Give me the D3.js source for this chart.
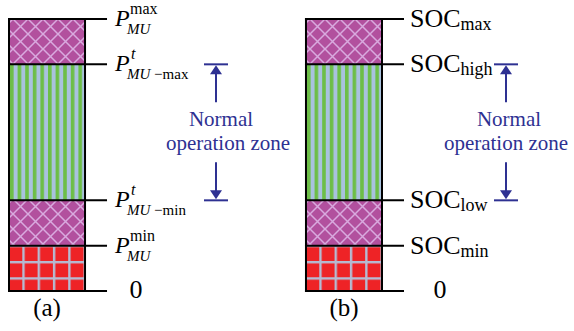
<!DOCTYPE html>
<html>
<head>
<meta charset="utf-8">
<script src="https://cdn.jsdelivr.net/npm/d3@7"></script>
<style>
  body { margin: 0; }
  #chart text, #chart tspan { font-family: Tinos, "Liberation Serif", Times, serif; }
</style>
</head>
<body>
<svg id="chart" width="574" height="331" style="display:block"></svg>
<script>
// ---- data ----
const panels = ["(a)", "(b)"];
const levelValues = [0, 1, 2, 5, 6];
const segStart = [0, 1, 2, 5];
const segEnd = [1, 2, 5, 6];
const segFill = ["grid", "hatch", "stripe", "hatch"];
const labelsA = [
  { base: "0" },
  { base: "P", sup: "min", sub: "MU" },
  { base: "P", sup: "t", sub: "MU", subRest: " \u2212min" },
  { base: "P", sup: "t", sub: "MU", subRest: " \u2212max" },
  { base: "P", sup: "max", sub: "MU" }
];
const labelsB = [
  { base: "0" },
  { base: "SOC", sub: "min" },
  { base: "SOC", sub: "low" },
  { base: "SOC", sub: "high" },
  { base: "SOC", sub: "max" }
];
const zoneText = ["Normal", "operation zone"];
const zoneFrom = 2, zoneTo = 5;

// ---- layout ----
const FONT = "Times";
const svg = d3.select("#chart");
const y = d3.scaleLinear().domain([0, 6]).range([291, 19]);
const x = d3.scaleBand().domain(panels).range([9, 382]).paddingInner(0.744).paddingOuter(0);
const bw = x.bandwidth();
const navy = "#2E3192";

const defs = svg.append("defs");
panels.forEach((p, i) => {
  const x0 = x(p);
  const gp = defs.append("pattern").attr("id", "grid" + i).attr("patternUnits", "userSpaceOnUse")
    .attr("x", x0 - 2).attr("y", y(1) - 1).attr("width", 15.3).attr("height", 16.3);
  gp.append("rect").attr("width", 15.3).attr("height", 16.3).attr("fill", "#EE2326");
  gp.append("rect").attr("x", 0).attr("y", 0).attr("width", 2.4).attr("height", 16.3).attr("fill", "#B5BBD3");
  gp.append("rect").attr("x", 0).attr("y", 0).attr("width", 15.3).attr("height", 2.4).attr("fill", "#B5BBD3");
  const hp = defs.append("pattern").attr("id", "hatch" + i).attr("patternUnits", "userSpaceOnUse")
    .attr("x", x0 + 4).attr("y", 19).attr("width", 15).attr("height", 15);
  hp.append("rect").attr("width", 15).attr("height", 15).attr("fill", "#B2509E");
  hp.append("path").attr("d", "M-1,-1L16,16M16,-1L-1,16")
    .attr("stroke", "#D9AADF").attr("stroke-width", 1.5).attr("fill", "none");
  const sp = defs.append("pattern").attr("id", "stripe" + i).attr("patternUnits", "userSpaceOnUse")
    .attr("x", x0 + 1).attr("y", 0).attr("width", 7.6).attr("height", 10);
  sp.append("rect").attr("width", 7.6).attr("height", 10).attr("fill", "#A9C2DE");
  sp.append("rect").attr("width", 3.6).attr("height", 10).attr("fill", "#6DBE47");
});

const labelSets = [labelsA, labelsB];
const zeroOffset = [29, 36];
const labelOffset = [8, 6];
const arrowX = [216, 506];
const textX = [[221, 228], [509, 506]];

function txt() {
  return svg.append("text").attr("font-family", FONT);
}

panels.forEach((p, i) => {
  const x0 = x(p), x1 = x0 + bw;

  svg.append("g").selectAll("rect").data(segStart).enter().append("rect")
    .attr("x", x0).attr("width", bw)
    .attr("y", (d, k) => y(segEnd[k]))
    .attr("height", (d, k) => y(segStart[k]) - y(segEnd[k]))
    .attr("fill", (d, k) => `url(#${segFill[k]}${i})`);

  const tickEnd = x1 + 22;
  svg.append("g").selectAll("line").data(levelValues).enter().append("line")
    .attr("x1", x0 - 1).attr("x2", tickEnd)
    .attr("y1", d => y(d)).attr("y2", d => y(d))
    .attr("stroke", "#000").attr("stroke-width", 2);
  svg.append("rect").attr("x", x0).attr("y", y(6)).attr("width", bw).attr("height", y(0) - y(6))
    .attr("fill", "none").attr("stroke", "#000").attr("stroke-width", 2);

  const labs = labelSets[i];
  labs.forEach((lab, k) => {
    const ty = y(levelValues[k]);
    if (lab.base === "0") {
      txt().attr("x", tickEnd + zeroOffset[i]).attr("y", ty + 7)
        .attr("text-anchor", "middle").attr("font-size", 26).text("0");
      return;
    }
    const lx = tickEnd + labelOffset[i];
    if (lab.base === "P") {
      txt().attr("x", lx).attr("y", ty + 7).attr("font-size", 24)
        .attr("font-style", "italic").text("P");
      const sx = lx + 15;
      const sup = txt().attr("x", lab.sup === "t" ? sx + 1 : sx)
        .attr("y", ty - 5).attr("font-size", 16).text(lab.sup);
      if (lab.sup === "t") sup.attr("font-style", "italic");
      const sub = txt().attr("x", sx - 3).attr("y", ty + 15).attr("font-size", 15);
      sub.append("tspan").attr("font-style", "italic").text(lab.sub);
      if (lab.subRest) sub.append("tspan").text(lab.subRest);
    } else {
      const t = txt().attr("x", lx).attr("y", ty + 8);
      t.append("tspan").attr("font-size", 26).text(lab.base);
      t.append("tspan").attr("font-size", 18).attr("dy", 3).text(lab.sub);
    }
  });

  txt().attr("x", x0 + bw / 2).attr("y", 316).attr("text-anchor", "middle")
    .attr("font-size", 25).text(p);

  const ax = arrowX[i];
  const yTop = y(zoneTo), yBot = y(zoneFrom);
  const a = svg.append("g").attr("stroke", navy).attr("fill", navy);
  a.append("line").attr("x1", ax - 12).attr("x2", ax + 12).attr("y1", yTop).attr("y2", yTop).attr("stroke-width", 2);
  a.append("path").attr("d", `M${ax},${yTop + 1}L${ax - 6},${yTop + 10}L${ax + 6},${yTop + 10}Z`).attr("stroke", "none");
  a.append("line").attr("x1", ax).attr("x2", ax).attr("y1", yTop + 9).attr("y2", yTop + 38).attr("stroke-width", 2);
  a.append("line").attr("x1", ax - 12).attr("x2", ax + 12).attr("y1", yBot).attr("y2", yBot).attr("stroke-width", 2);
  a.append("path").attr("d", `M${ax},${yBot - 1}L${ax - 6},${yBot - 10}L${ax + 6},${yBot - 10}Z`).attr("stroke", "none");
  a.append("line").attr("x1", ax).attr("x2", ax).attr("y1", yBot - 9).attr("y2", yBot - 38).attr("stroke-width", 2);

  txt().attr("x", textX[i][0]).attr("y", 126).attr("text-anchor", "middle")
    .attr("font-size", 21).attr("fill", navy).text(zoneText[0]);
  txt().attr("x", textX[i][1]).attr("y", 150).attr("text-anchor", "middle")
    .attr("font-size", 21).attr("fill", navy).text(zoneText[1]);
});
</script>
</body>
</html>
